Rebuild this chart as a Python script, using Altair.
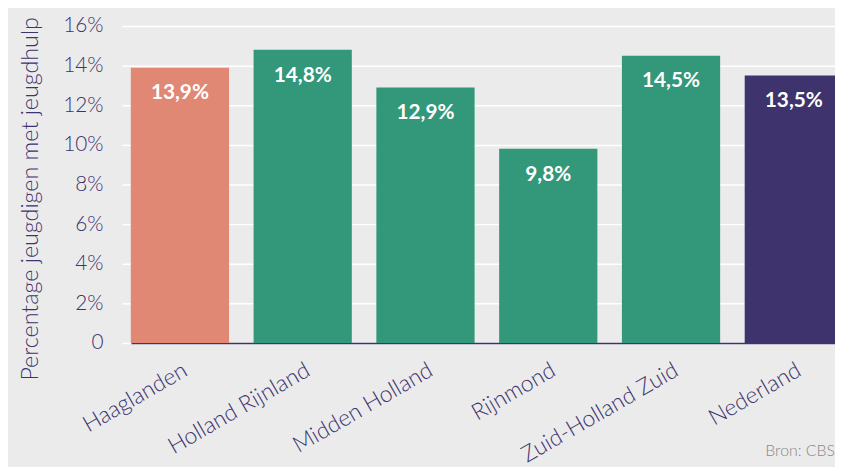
import altair as alt
import pandas as pd

regions = ["Haaglanden", "Holland Rijnland", "Midden Holland", "Rijnmond", "Zuid-Holland Zuid", "Nederland"]
values = [13.9, 14.8, 12.9, 9.8, 14.5, 13.5]
groups = ["Haaglanden", "Regio", "Regio", "Regio", "Regio", "Nederland"]
y_ticks = [0, 2, 4, 6, 8, 10, 12, 14, 16]

df = pd.DataFrame({
    "regio": regions,
    "waarde": values,
    "groep": groups,
    "label": [f"{v:.1f}".replace(".", ",") + "%" for v in values],
})

PURPLE = "#3d336e"
FONT = "Lato"

y_enc = alt.Y("waarde:Q", scale=alt.Scale(domain=[0, 16], nice=False),
              axis=alt.Axis(title="Percentage jeugdigen met jeugdhulp", values=y_ticks,
                            labelExpr="datum.value == 0 ? '0' : datum.value + '%'",
                            labelFontSize=21, labelColor=PURPLE, labelFont=FONT, labelPadding=19,
                            labelFontWeight=300, labelOverlap=False,
                            tickColor="white", tickSize=9, tickWidth=1.5,
                            grid=True, gridColor="white", gridWidth=1.5,
                            domain=False,
                            titleFontSize=23.5, titleColor=PURPLE, titleFont=FONT,
                            titleFontWeight=300, titleX=-101, titleY=174,
                            titleAngle=-90, titleAlign="center", titleBaseline="middle"))

base = alt.Chart(df).encode(
    x=alt.X("regio:N", sort=regions,
            scale=alt.Scale(range=[0, 719], paddingInner=0.2, paddingOuter=0),
            axis=alt.Axis(title=None, labelAngle=-30, labelAlign="right", labelBaseline="top",
                          labelPadding=16, labelFontSize=23, labelColor=PURPLE, labelFont=FONT,
                          labelFontWeight=300, labelOverlap=False, labelLimit=400,
                          ticks=False, domainColor=PURPLE, domainWidth=1.5, grid=False)),
    y=y_enc,
)

bars = base.mark_bar().encode(
    color=alt.Color("groep:N",
                    scale=alt.Scale(domain=["Haaglanden", "Regio", "Nederland"],
                                    range=["#e08873", "#33977a", "#3e336c"]),
                    legend=None),
)

labels = base.mark_text(baseline="top", dy=15, color="white", fontSize=21,
                        fontWeight="bold", font=FONT).encode(
    text="label:N",
)

chart = alt.layer(bars, labels).properties(
    width=711, height=320,
    background="#ebebeb",
    padding={"left": 124, "top": 16, "right": 0, "bottom": 123},
    autosize=alt.AutoSizeParams(type="none"),
    title=alt.TitleParams(text="Bron: CBS", orient="bottom", anchor="end",
                          fontSize=16, color="#8a8a8a", fontWeight=300,
                          font=FONT, offset=-24, dx=-8),
).configure_view(stroke=None)

chart.save("out.html", embed_options={"renderer": "svg", "actions": False})
